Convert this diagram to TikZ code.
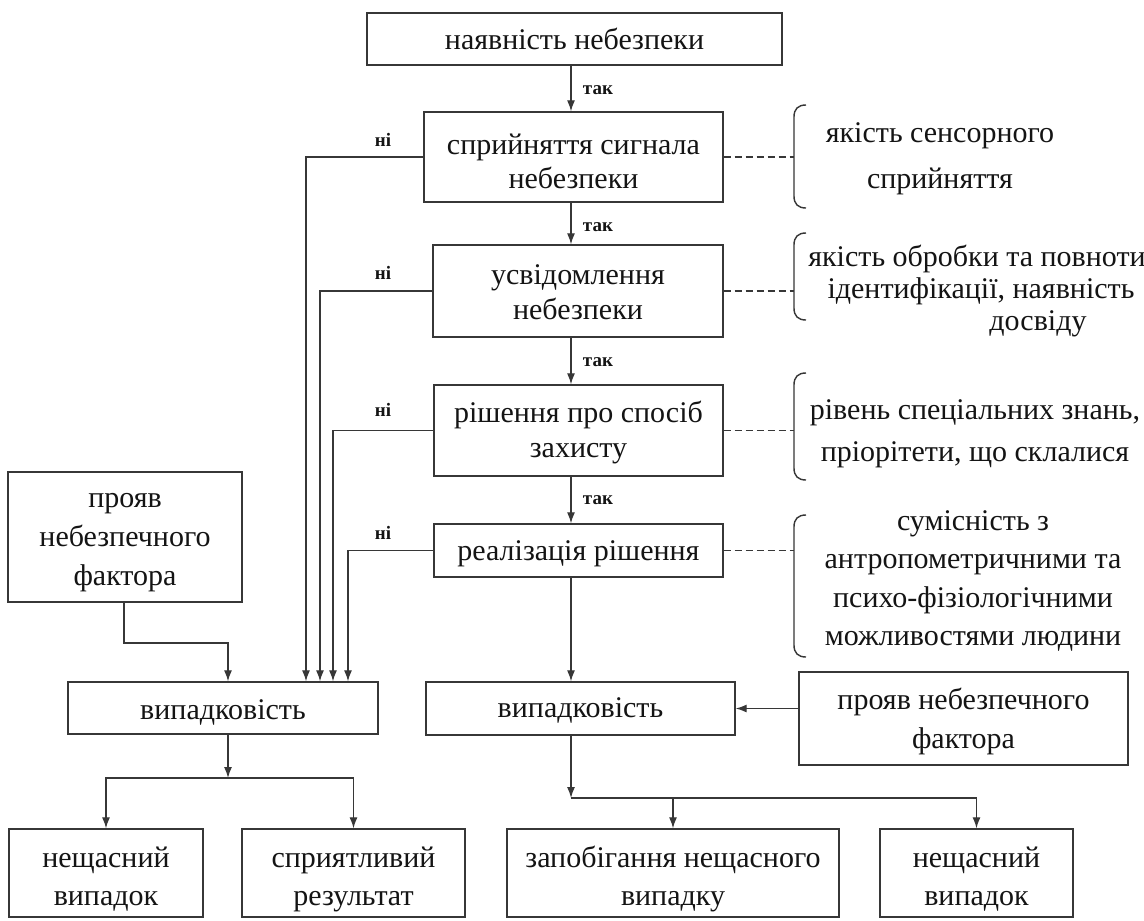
\documentclass[tikz,border=0pt]{standalone}
\usepackage{fontspec}
\setmainfont{Liberation Serif}
\usetikzlibrary{arrows.meta}
\definecolor{linec}{RGB}{55,55,55}
\definecolor{txt}{RGB}{20,20,20}
\newcommand\myup[1]{\rule{0pt}{#1pt}}
\newcommand\mydn{\rule[-10pt]{0pt}{10pt}}
\newcommand\myfs[1]{\fontsize{30}{#1}\selectfont}
\begin{document}
\begin{tikzpicture}[x=1pt,y=-1pt,
  box/.style={draw=linec, line width=1.4pt, inner sep=0pt, align=center,
    font=\myfs{35}, text=txt},
  lbl/.style={font=\bfseries\fontsize{19}{22}\selectfont, text=txt, inner sep=0pt},
  conn/.style={draw=linec, line width=1.3pt},
  arr/.style={conn, -{Latex[length=11pt,width=8pt]}},
  dsh/.style={draw=linec, line width=1.3pt, dash pattern=on 7pt off 4pt},
  brc/.style={draw=linec, line width=1.4pt},
  note/.style={align=center, inner sep=0pt, text=txt, font=\myfs{38}}]
\fill[white] (0,0) rectangle (1144,921);
\useasboundingbox (0,0) rectangle (1144,921);

% main column
\node[box, minimum width=415, minimum height=52] (b1) at (574.5,39)
  {\myup{30}наявність небезпеки\mydn};
\node[box, minimum width=299, minimum height=90, font=\myfs{34}] (b2) at (573.5,157)
  {\myup{38}сприйняття сигнала\\небезпеки\mydn};
\node[box, minimum width=290, minimum height=92] (b3) at (578,291)
  {\myup{31}усвідомлення\\небезпеки\mydn};
\node[box, minimum width=289, minimum height=91] (b4) at (578.5,430.5)
  {\myup{28}рішення про спосіб\\захисту\mydn};
\node[box, minimum width=289, minimum height=53] (b5) at (578.5,550.5)
  {\myup{29}реалізація рішення\mydn};

% lower boxes
\node[box, minimum width=234, minimum height=130, font=\myfs{39}] (pl) at (125,537)
  {\myup{28}прояв\\небезпечного\\фактора\mydn};
\node[box, minimum width=310, minimum height=52] (lv) at (223,708)
  {\myup{33}випадковість\mydn};
\node[box, minimum width=309, minimum height=53] (rv) at (580.5,708.5)
  {\myup{27}випадковість\mydn};
\node[box, minimum width=329, minimum height=93, font=\myfs{39}] (rp) at (963.5,718.5)
  {\myup{30}прояв небезпечного\\фактора\mydn};
\node[box, minimum width=194, minimum height=88, font=\myfs{38}] (nl) at (106,873)
  {\myup{36}нещасний\\випадок\mydn};
\node[box, minimum width=223, minimum height=88, font=\myfs{38}] (sr) at (353.5,873)
  {\myup{36}сприятливий\\результат\mydn};
\node[box, minimum width=332, minimum height=88, font=\myfs{38}] (zap) at (673,873)
  {\myup{36}запобігання нещасного\\випадку\mydn};
\node[box, minimum width=193, minimum height=88, font=\myfs{38}] (nr) at (976.5,873)
  {\myup{36}нещасний\\випадок\mydn};

% notes
\node[note, font=\myfs{46}] (t1) at (940,155)
  {\myup{30}якість сенсорного\\сприйняття\mydn};
\node[note, anchor=base] (t2a) at (977,266) {якість обробки та повноти};
\node[note, anchor=base] (t2b) at (981,298) {ідентифікації, наявність};
\node[note, anchor=base] (t2c) at (1038,330) {досвіду};
\node[note, font=\myfs{42}] (t3) at (975,430)
  {\myup{30}рівень спеціальних знань,\\пріорітети, що склалися\mydn};
\node[note, font=\myfs{38.5}] (t4) at (973,577.75)
  {\myup{30}сумісність з\\антропометричними та\\психо-фізіологічними\\можливостями людини\mydn};

% labels
\node[lbl] (y1) at (598,90) {так};
\node[lbl] (y2) at (598,227) {так};
\node[lbl] (y3) at (598,362) {так};
\node[lbl] (y4) at (598,500) {так};
\node[lbl] (n1) at (383,140) {ні};
\node[lbl] (n2) at (383,273) {ні};
\node[lbl] (n3) at (383,410) {ні};
\node[lbl] (n4) at (383,533) {ні};

% helper coordinates
\coordinate (cx) at (571,0);
\coordinate (v1) at (306,0);
\coordinate (v2) at (320,0);
\coordinate (v3) at (333,0);
\coordinate (v4) at (348,0);
\coordinate (k1) at (124,643);
\coordinate (k2) at (228,643);
\coordinate (jL) at (228,778);
\coordinate (jR) at (571,798);
\coordinate (br) at (794,0);

% yes arrows
\draw[arr] (b1.south -| cx) -- (b2.north -| cx);
\draw[arr] (b2.south -| cx) -- (b3.north -| cx);
\draw[arr] (b3.south -| cx) -- (b4.north -| cx);
\draw[arr] (b4.south -| cx) -- (b5.north -| cx);
\draw[arr] (b5.south -| cx) -- (rv.north -| cx);

% no arrows
\draw[arr] (b2.west) -| (v1 |- lv.north);
\draw[arr] (b3.west) -| (v2 |- lv.north);
\draw[arr] (b4.west) -| (v3 |- lv.north);
\draw[arr] (b5.west) -| (v4 |- lv.north);

% left factor
\draw[arr] (pl.south -| k1) -- (k1) -- (k2) -- (k2 |- lv.north);

% left outcome
\draw[arr] (lv.south -| k2) -- (jL);
\draw[arr] (jL) -| (nl.north);
\draw[arr] (jL) -| (sr.north);

% right
\draw[arr] (rp.west |- rv.east) -- (rv.east);
\draw[arr] (rv.south -| cx) -- (jR);
\draw[arr] (jR) -| (zap.north);
\draw[arr] (jR) -| (nr.north);

% dashed links
\draw[dsh] (b2.east) -- (b2.east -| br);
\draw[dsh] (b3.east) -- (b3.east -| br);
\draw[dsh] (b4.east) -- (b4.east -| br);
\draw[dsh] (b5.east) -- (b5.east -| br);

% braces
\foreach \t/\b in {105/208, 233/320, 373/480, 515/657}{
  \draw[brc] (806,\t) .. controls (798,\t) and (794,\t+4) .. (794,\t+12)
    -- (794,\b-12) .. controls (794,\b-4) and (798,\b) .. (806,\b);
}
\end{tikzpicture}
\end{document}
